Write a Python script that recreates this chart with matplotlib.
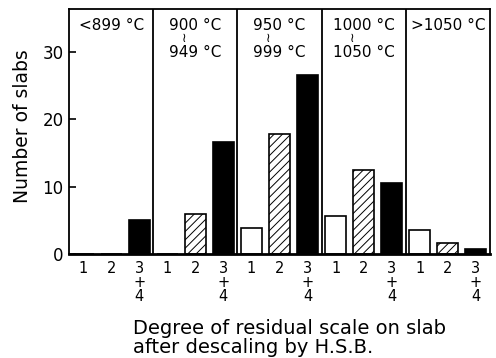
import numpy as np
import matplotlib.pyplot as plt
import matplotlib.transforms as mtransforms

# tick labels (degree of residual scale) and temperature groups
degrees = ['1', '2', '3\n+\n4']
temp_top = ['<899 °C', '900 °C', '950 °C', '1000 °C', '>1050 °C']
temp_bottom = ['', '949 °C', '999 °C', '1050 °C', '']

# number of slabs per temperature group
deg1 = [0, 0, 3.9, 5.6, 3.6]
deg2 = [0, 5.9, 17.8, 12.5, 1.6]
deg34 = [5.1, 16.7, 26.6, 10.5, 0.7]

plt.rcParams['font.family'] = ['DejaVu Sans']
plt.rcParams['hatch.linewidth'] = 0.7

fig = plt.figure(figsize=(4.96, 3.58), dpi=100)
ax = fig.add_axes([69 / 496, 1 - 254 / 358, 421 / 496, 245 / 358])

n = len(temp_top)
x = np.arange(n * 3)
w = 0.75
for i in range(n):
    ax.bar(x[3 * i], deg1[i], w, color='white', edgecolor='black', linewidth=1.2)
    ax.bar(x[3 * i + 1], deg2[i], w, color='white', edgecolor='black',
           hatch='////', linewidth=1.2)
    ax.bar(x[3 * i + 2], deg34[i], w, color='black', edgecolor='black', linewidth=1.2)

# panel dividers
for i in range(1, n):
    ax.axvline(3 * i - 0.5, color='black', linewidth=1.3)

trans = mtransforms.blended_transform_factory(ax.transData, ax.transAxes)
for i in range(n):
    cx = 3 * i + 1
    ax.text(cx, 0.931, temp_top[i], transform=trans, ha='center', va='center', fontsize=11)
    if temp_bottom[i]:
        ax.text(cx - 0.4, 0.88, '≀', transform=trans, ha='center', va='center', fontsize=9)
        ax.text(cx, 0.824, temp_bottom[i], transform=trans, ha='center', va='center', fontsize=11)

ax.set_xlim(-0.5, n * 3 - 0.5)
ax.set_ylim(0, 36.4)
ax.set_yticks([0, 10, 20, 30])
ax.set_xticks(x)
ax.set_xticklabels(degrees * n, linespacing=0.9)
ax.tick_params(axis='x', length=0, pad=5, labelsize=10.5)
ax.tick_params(axis='y', direction='in', length=5, width=1.2, labelsize=12, pad=4)
for s in ax.spines.values():
    s.set_linewidth(1.3)
ax.spines['bottom'].set_linewidth(2)

ax.set_ylabel('Number of slabs', fontsize=13.5)
ax.yaxis.set_label_coords(-0.088, 0.52)
fig.text(133 / 496, 1 - 338 / 358, 'Degree of residual scale on slab\nafter descaling by H.S.B.',
         ha='left', va='center', fontsize=14, linespacing=0.95)

fig.savefig('out.png', dpi=100)
